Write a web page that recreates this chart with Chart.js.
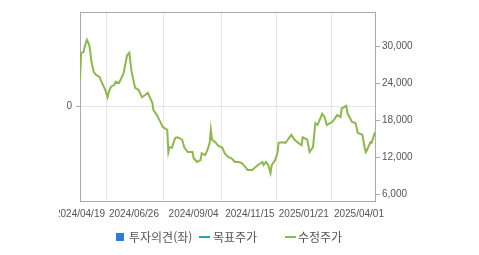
<!DOCTYPE html>
<html lang="ko">
<head>
    <meta charset="UTF-8">
    <title>수정주가 차트</title>
    <style>
        body {
            margin: 0;
            padding: 0;
            background: #fff;
            overflow: hidden;
            font-family: 'Liberation Sans', Arial, sans-serif;
        }
        .wrap {
            position: relative;
            width: 479px;
            height: 255px;
        }
        .legend {
            position: absolute;
            top: 229px;
            left: 0;
            width: 479px;
            height: 18px;
            font-family: 'Noto Sans CJK KR', sans-serif;
            font-size: 12px;
            color: #555;
        }
        .legend span {
            position: absolute;
            line-height: 16px;
            top: 0;
        }
        .legend .box {
            top: 4px;
            width: 8px;
            height: 8px;
            background: #2b7cd9;
        }
        .legend .ln {
            top: 7px;
            height: 2px;
        }
    </style>
    <script src="https://cdn.jsdelivr.net/npm/chart.js"></script>
</head>
<body>
    <div class="wrap">
        <canvas id="priceChart" width="479" height="255"></canvas>
        <div class="legend">
            <span class="box" style="left:116px;"></span>
            <span style="left:129px;">투자의견(좌)</span>
            <span class="ln" style="left:199px; width:11px; background:#22a5b5;"></span>
            <span style="left:213px;">목표주가</span>
            <span class="ln" style="left:285px; width:11px; background:#8cb84c;"></span>
            <span style="left:298px;">수정주가</span>
        </div>
    </div>

    <script>
        // trading-day index of each sample, and the adjusted price (수정주가) there
        const days = [0, 1, 3, 4, 6, 8, 9, 10, 12, 14, 17, 18, 20, 22, 24, 25, 27, 30, 31, 34,
            36, 38, 39, 41, 43, 44, 45, 48, 51, 54, 57, 59, 63, 64, 67, 70, 72, 76, 77, 78,
            80, 83, 85, 89, 91, 94, 98, 99, 102, 105, 106, 109, 111, 113, 114, 115, 118, 120, 124, 126,
            129, 132, 135, 138, 141, 144, 146, 150, 152, 155, 159, 160, 162, 164, 166, 167, 170, 172, 173, 176,
            179, 181, 184, 187, 190, 193, 194, 198, 200, 203, 205, 207, 211, 213, 215, 218, 220, 224, 227, 228,
            232, 233, 237, 240, 242, 246, 248, 249, 250, 253, 254, 257];
        const prices = [24500, 28900, 29000, 29800, 31000, 30200, 29000, 27400, 25800, 25300, 25000, 24500, 23700, 22900, 21700, 22500, 23400, 23700, 24200, 24000,
            24800, 25600, 26600, 28500, 28900, 27200, 25800, 23200, 22900, 21700, 22100, 22400, 20800, 19600, 18800, 17700, 16900, 16400, 12800, 13600,
            13500, 15100, 15200, 14800, 13500, 12800, 12800, 11800, 11200, 11500, 12600, 12300, 13100, 14300, 16400, 14800, 14400, 13900, 13500, 12600,
            12000, 11800, 11200, 11200, 11000, 10400, 9900, 9900, 10200, 10700, 11200, 10700, 11200, 10700, 9400, 10700, 11500, 12600, 14300, 14400,
            14300, 14800, 15600, 14800, 14300, 13900, 15200, 14800, 12800, 13600, 17500, 17200, 19000, 18500, 17200, 17500, 17700, 18800, 18500, 19900,
            20300, 19100, 17700, 17500, 15900, 15600, 13500, 12800, 13100, 14400, 14300, 16000];
        const targetPrices = [];
        const opinions = [];

        // x axis labels and where they sit
        const tickDays = [0, 47, 99, 148, 195, 243];
        const tickLabels = ['2024/04/19', '2024/06/26', '2024/09/04', '2024/11/15', '2025/01/21', '2025/04/01'];
        const lastDay = 257;

        // right axis
        const priceTicks = [6000, 12000, 18000, 24000, 30000];
        const priceMin = 4865;
        const priceMax = 35515;

        const frame = {
            id: 'frame',
            beforeDatasetsDraw(chart) {
                const a = chart.chartArea;
                const ctx = chart.ctx;
                ctx.save();
                ctx.strokeStyle = '#aaaaaa';
                ctx.lineWidth = 1;
                ctx.strokeRect(a.left + 0.5, a.top + 0.5, a.right - a.left, a.bottom - a.top);
                ctx.restore();
            },
            afterDraw(chart) {
                // the first date label is cut off at the left in the original
                const a = chart.chartArea;
                const ctx = chart.ctx;
                ctx.save();
                ctx.fillStyle = '#ffffff';
                ctx.fillRect(0, a.bottom + 2, a.left - 21, 30);
                ctx.restore();
            }
        };

        const tickFont = { family: "'Liberation Sans', Arial, sans-serif", size: 10 };

        new Chart(document.getElementById('priceChart').getContext('2d'), {
            type: 'line',
            data: {
                datasets: [
                    {
                        type: 'bar',
                        label: '투자의견(좌)',
                        data: opinions,
                        backgroundColor: '#2b7cd9',
                        yAxisID: 'yLeft'
                    },
                    {
                        label: '목표주가',
                        data: targetPrices,
                        borderColor: '#22a5b5',
                        yAxisID: 'yRight'
                    },
                    {
                        label: '수정주가',
                        data: days.map((d, i) => ({ x: d, y: prices[i] })),
                        borderColor: '#8cb84c',
                        borderWidth: 2,
                        pointRadius: 0,
                        tension: 0,
                        yAxisID: 'yRight'
                    }
                ]
            },
            options: {
                responsive: false,
                animation: false,
                layout: { padding: { top: 12, left: 0, right: 0, bottom: 0 } },
                plugins: {
                    legend: { display: false },
                    tooltip: { enabled: false }
                },
                scales: {
                    x: {
                        type: 'linear',
                        min: 0,
                        max: lastDay,
                        offset: false,
                        afterBuildTicks: (scale) => {
                            scale.ticks = tickDays.map(v => ({ value: v }));
                        },
                        afterFit: (scale) => { scale.height = 54; },
                        ticks: {
                            autoSkip: false,
                            maxRotation: 0,
                            padding: 7,
                            color: '#555',
                            font: tickFont,
                            callback: (value, index) => tickLabels[index]
                        },
                        grid: {
                            color: '#e6e6e6',
                            drawTicks: false
                        },
                        border: { display: false }
                    },
                    yLeft: {
                        position: 'left',
                        min: -1,
                        max: 1,
                        afterBuildTicks: (scale) => {
                            scale.ticks = [{ value: 0 }];
                        },
                        afterFit: (scale) => { scale.width = 80; },
                        ticks: {
                            padding: 4,
                            color: '#555',
                            font: tickFont,
                            callback: () => '0'
                        },
                        grid: {
                            color: '#e6e6e6',
                            tickColor: '#aaaaaa',
                            tickLength: 4
                        },
                        border: { display: false }
                    },
                    yRight: {
                        position: 'right',
                        min: priceMin,
                        max: priceMax,
                        afterBuildTicks: (scale) => {
                            scale.ticks = priceTicks.map(v => ({ value: v }));
                        },
                        afterFit: (scale) => { scale.width = 104; },
                        ticks: {
                            padding: 2,
                            color: '#555',
                            font: tickFont,
                            callback: (value) => value.toLocaleString('en-US')
                        },
                        grid: {
                            drawOnChartArea: false,
                            tickColor: '#aaaaaa',
                            tickLength: 5
                        },
                        border: { display: false }
                    }
                }
            },
            plugins: [frame]
        });
    </script>
</body>
</html>
